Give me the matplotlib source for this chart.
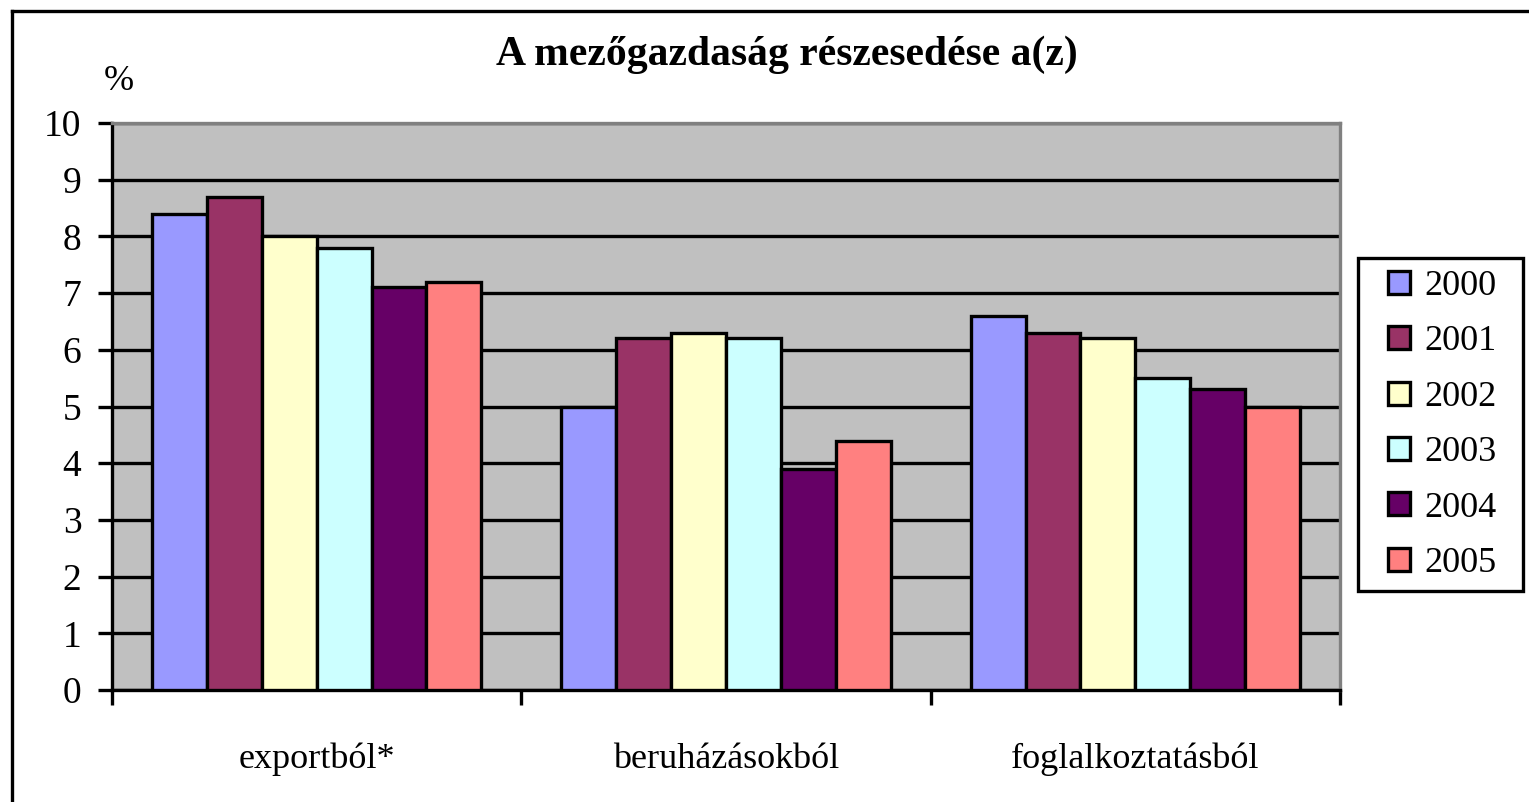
import matplotlib.pyplot as plt
from matplotlib.lines import Line2D
from matplotlib.patches import Rectangle
import numpy as np

plt.rcParams['font.family'] = ['Liberation Serif', 'DejaVu Serif']

# adatok
categories = ['exportból*', 'beruházásokból', 'foglalkoztatásból']
years = ['2000', '2001', '2002', '2003', '2004', '2005']
values = {
    '2000': [8.4, 5.0, 6.6],
    '2001': [8.7, 6.2, 6.3],
    '2002': [8.0, 6.3, 6.2],
    '2003': [7.8, 6.2, 5.5],
    '2004': [7.1, 3.9, 5.3],
    '2005': [7.2, 4.4, 5.0],
}
colors = ['#9999FF', '#993366', '#FFFFCC', '#CCFFFF', '#660066', '#FF8080']

W, H = 1529, 802
fig = plt.figure(figsize=(W / 100, H / 100), dpi=100)
ax = fig.add_axes([112 / W, 1 - 690 / H, (1340 - 112) / W, (690 - 123) / H])
ax.set_facecolor('#C0C0C0')

x = np.arange(len(categories))
w = 0.134
for j, yr in enumerate(years):
    ax.bar(x + (j - 2.5) * w, values[yr], width=w, color=colors[j],
           edgecolor='black', linewidth=2.4, label=yr, zorder=3)

ax.set_xlim(-0.5, 2.5)
ax.set_ylim(0, 10)
ax.set_yticks(range(0, 11))
ax.yaxis.grid(True, color='black', linewidth=2.4, zorder=1)
ax.set_axisbelow(True)

ax.set_xticks(x)
ax.set_xticklabels(categories, fontsize=26)
ax.set_xticks([-0.5, 0.5, 1.5, 2.5], minor=True)
ax.tick_params(axis='x', which='major', length=0, pad=38)
ax.tick_params(axis='x', which='minor', length=11, width=2.4, color='black')
ax.tick_params(axis='y', length=10, width=2.4, labelsize=27, pad=12)

for s in ['left', 'bottom']:
    ax.spines[s].set_linewidth(2.4)
    ax.spines[s].set_color('black')
for s in ['top', 'right']:
    ax.spines[s].set_linewidth(2.4)
    ax.spines[s].set_color('#808080')

fig.text(787 / W, 1 - 55 / H, 'A mezőgazdaság részesedése a(z)', ha='center',
         va='center', fontsize=30, fontweight='bold')
fig.text(119 / W, 1 - 82 / H, '%', ha='center', va='center', fontsize=26)

leg = fig.legend(loc='center left', bbox_to_anchor=(1388 / W, 1 - 425 / H),
                 fontsize=26, frameon=False,
                 handlelength=0.6, handleheight=0.6, handletextpad=0.4,
                 labelspacing=0.62, borderpad=0, borderaxespad=0)
for h in leg.legend_handles:
    h.set_linewidth(2.4)

# jelmagyarazat kerete
fig.add_artist(Rectangle((1358 / W, 1 - 591 / H), (1523 - 1358) / W,
                         (591 - 258) / H, transform=fig.transFigure,
                         facecolor='none', edgecolor='black', linewidth=2.4))

# keret
fig.add_artist(Line2D([12 / W, 12 / W], [0, 1 - 11 / H], color='black',
                      linewidth=2.4, transform=fig.transFigure))
fig.add_artist(Line2D([12 / W, 1], [1 - 11 / H, 1 - 11 / H], color='black',
                      linewidth=2.4, transform=fig.transFigure))

fig.savefig('out.png', dpi=100)
